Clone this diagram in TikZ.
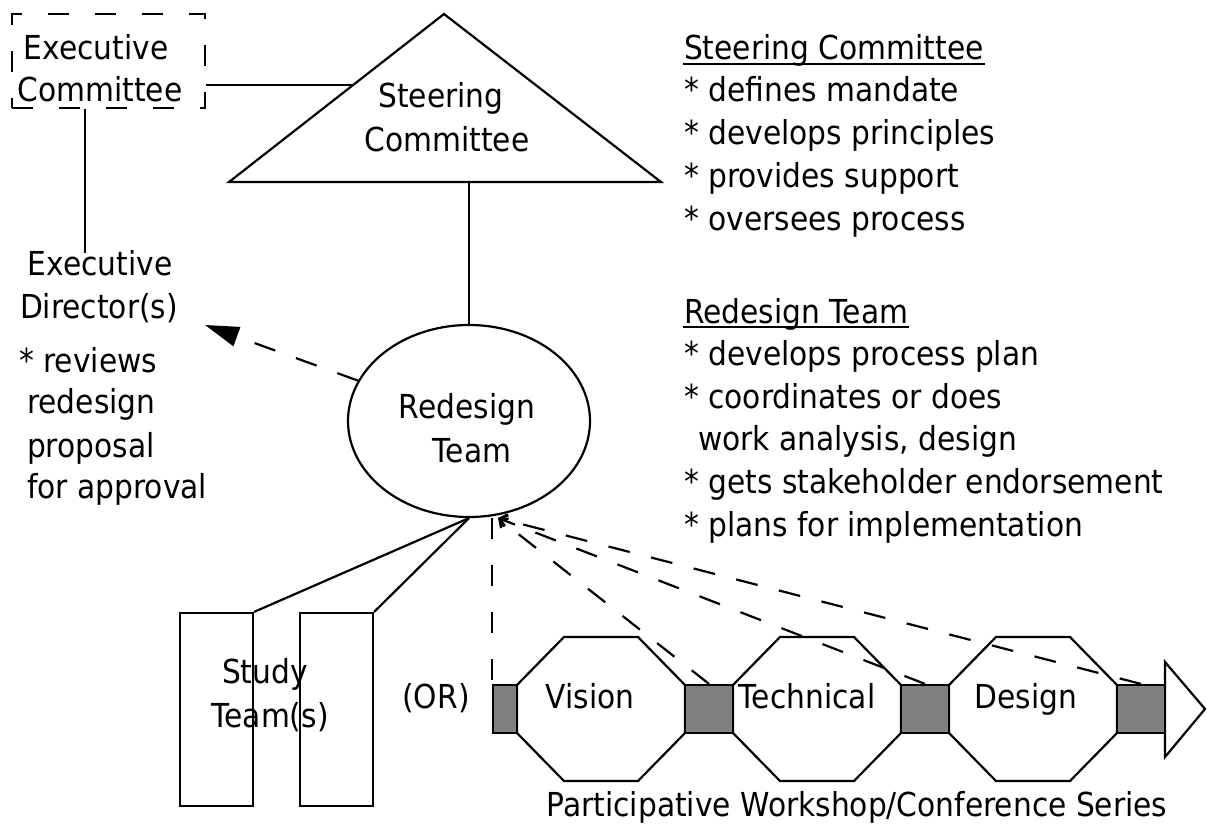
\documentclass[tikz,border=0pt]{standalone}
\usepackage{fontspec}
\setmainfont{DejaVu Sans}[FakeStretch=0.9]
\usetikzlibrary{arrows.meta,shapes.geometric}
\definecolor{boxgray}{RGB}{128,128,128}
\newcommand{\wsoct}[2]{\draw[fill=white] (#1,685) -- ({#1+47},637) -- ({#2-47},637) -- (#2,685) -- (#2,733) -- ({#2-47},781) -- ({#1+47},781) -- (#1,733) -- cycle;}
\begin{document}
\begin{tikzpicture}[x=1pt,y=-1pt,line width=2.2pt,line join=miter,
  txt/.style={inner sep=0pt,font=\fontsize{33}{43}\selectfont},
  dshbox/.style={dash pattern=on 21pt off 26pt},
  dsharr/.style={dash pattern=on 22pt off 22pt},
  wsq/.style={draw,fill=boxgray,inner sep=0pt,minimum height=48pt},
  tall/.style={draw,inner sep=0pt,minimum width=73pt,minimum height=193pt}]
\useasboundingbox (0,0) rectangle (1207,832);

% Executive Committee (dashed box)
\node[draw,dshbox,inner sep=0pt,minimum width=193pt,minimum height=94pt] (ecbox) at (108.5,61) {};

% Steering Committee triangle
\coordinate (tA) at (444,14);
\coordinate (tL) at (229,182);
\coordinate (tR) at (661,182);
\draw (tA) -- (tL) -- (tR) -- cycle;
\coordinate (tHit) at (353,85);

% Redesign Team ellipse
\node[draw,ellipse,inner sep=0pt,minimum width=242pt,minimum height=192pt] (rt) at (469,421) {};
\coordinate (rtin) at (498,518);

% Executive Director connector end
\coordinate (edTop) at (85,253);
\coordinate (edTip) at (205,325);

% Study teams
\node[tall] (st1) at (216.5,709.5) {};
\node[tall] (st2) at (336.5,709.5) {};

% Workshop series
\wsoct{517}{685}
\wsoct{733}{901}
\wsoct{949}{1117}
\draw[fill=white] (1165,662) coordinate (arA) -- (1205,709) coordinate (arT) -- (1165,757) coordinate (arB) -- cycle;
\node[wsq,minimum width=24pt] (sq1) at (505,709) {};
\node[wsq,minimum width=48pt] (sq2) at (709,709) {};
\node[wsq,minimum width=48pt] (sq3) at (925,709) {};
\node[wsq,minimum width=48pt] (sq4) at (1141,709) {};

% connectors
\draw (ecbox.east |- tHit) -- (tHit);
\draw (ecbox.south -| edTop) -- (edTop);
\draw (rt.north |- tL) -- (rt.north);
\draw[dsharr,-{Triangle[length=34pt,width=20pt]}] (rt) -- (edTip);
\draw (st1.north east) -- (rt.south);
\draw (st2.north east) -- (rt.south);
\draw[dshbox] (sq1.north west |- rt.south) -- (sq1.north west);
\draw[dsharr,-{Straight Barb[length=7pt,width=12pt]}] (sq2.north) -- (rtin);
\draw[dsharr,-{Straight Barb[length=7pt,width=12pt]}] (sq3.north) -- (rtin);
\draw[dsharr,-{Straight Barb[length=7pt,width=12pt]}] (sq4.north) -- (rtin);

% texts
\node[txt,anchor=base] (ect1) at (96,60) {Executive};
\node[txt,anchor=base] (ect2) at (100,102) {Committee};
\node[txt,anchor=base] (sct1) at (441,108) {Steering};
\node[txt,anchor=base] (sct2) at (447,152) {Committee};
\node[txt,anchor=base] (rtt1) at (467,418) {Redesign};
\node[txt,anchor=base] (rtt2) at (472,462) {Team};
\node[txt,anchor=base] (ed1) at (100,275) {Executive};
\node[txt,anchor=base] (ed2) at (99,318) {Director(s)};
\node[txt,anchor=base west] (edl1) at (18,372) {* reviews};
\node[txt,anchor=base west] (edl2) at (26,413) {redesign};
\node[txt,anchor=base west] (edl3) at (26,457) {proposal};
\node[txt,anchor=base west] (edl4) at (26,498) {for approval};
\node[txt,anchor=base] (stt1) at (265,683) {Study};
\node[txt,anchor=base] (stt2) at (270,727) {Team(s)};
\node[txt,anchor=base] (or) at (436,708) {(OR)};
\node[txt,anchor=base] (wv) at (590,708) {Vision};
\node[txt,anchor=base] (wt) at (807,708) {Technical};
\node[txt,anchor=base] (wd) at (1026,708) {Design};
\node[txt,anchor=base] (wcap) at (857,816) {Participative Workshop/Conference Series};

\node[txt,anchor=base west] (sch) at (683,60) {Steering Committee};
\draw[line width=1.8pt] ([yshift=-4pt]sch.base west) -- ([yshift=-4pt]sch.base east);
\node[txt,anchor=base west] (sc1) at (683,102) {* defines mandate};
\node[txt,anchor=base west] (sc2) at (683,145) {* develops principles};
\node[txt,anchor=base west] (sc3) at (683,187) {* provides support};
\node[txt,anchor=base west] (sc4) at (683,230) {* oversees process};

\node[txt,anchor=base west] (rdh) at (683,323) {Redesign Team};
\draw[line width=1.8pt] ([yshift=-4pt]rdh.base west) -- ([yshift=-4pt]rdh.base east);
\node[txt,anchor=base west] (rd1) at (683,365) {* develops process plan};
\node[txt,anchor=base west] (rd2) at (683,408) {* coordinates or does};
\node[txt,anchor=base west] (rd3) at (697,450) {work analysis, design};
\node[txt,anchor=base west] (rd4) at (683,493) {* gets stakeholder endorsement};
\node[txt,anchor=base west] (rd5) at (683,536) {* plans for implementation};
\end{tikzpicture}
\end{document}
